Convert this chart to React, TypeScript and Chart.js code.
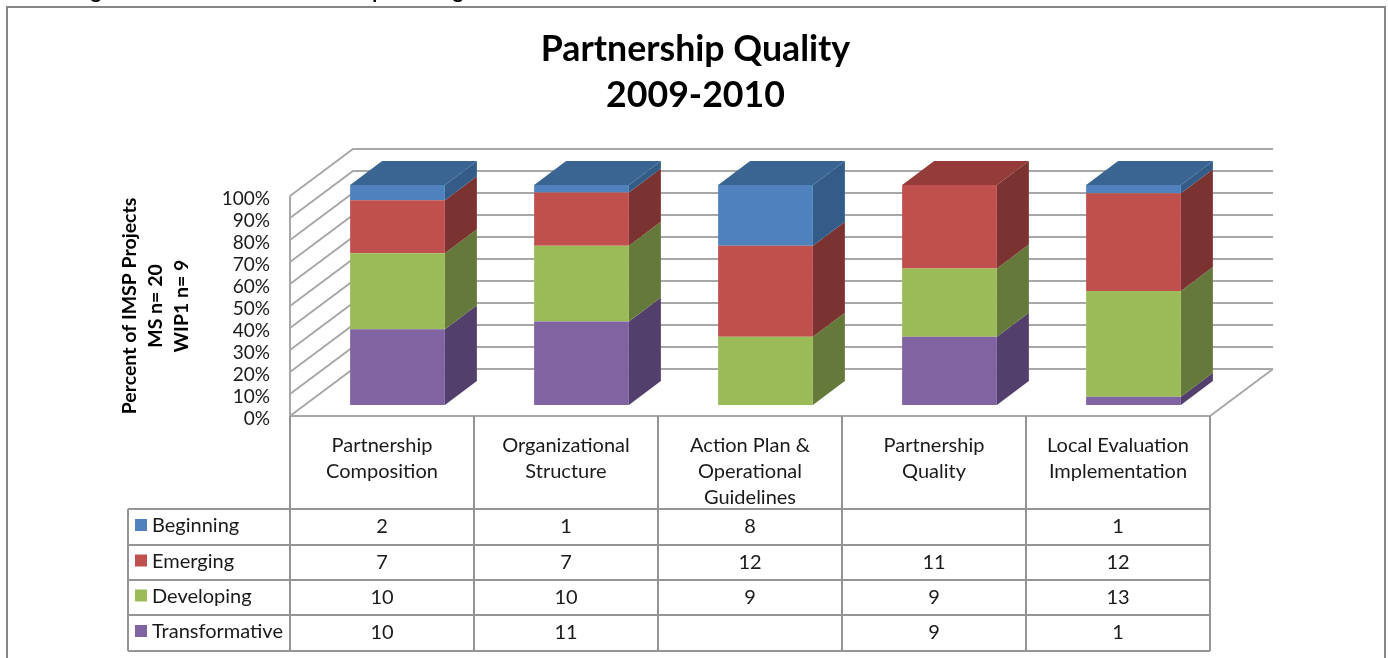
import React, { useEffect, useRef } from "react";
import { Chart, registerables } from "chart.js";

Chart.register(...registerables);

const categories = [
  ["Partnership", "Composition"],
  ["Organizational", "Structure"],
  ["Action Plan &", "Operational", "Guidelines"],
  ["Partnership", "Quality"],
  ["Local Evaluation", "Implementation"],
];
const beginning = [2, 1, 8, null, 1];
const emerging = [7, 7, 12, 11, 12];
const developing = [10, 10, 9, 9, 13];
const transformative = [10, 11, null, 9, 1];
const titleLines = ["Partnership Quality", "2009-2010"];
const yTitleLines = ["Percent of IMSP Projects", "MS n= 20", "WIP1 n= 9"];
// only the descenders of the caption above the frame survive in the crop
const captionGlyphs = [
  { text: "g", x: 96 },
  { text: "p", x: 378 },
  { text: "g", x: 458 },
];

const FONT = "Lato, 'Open Sans', sans-serif";
const TEXT = "#1a1a1a";
const LINE = "#a8a8a8";
const TABLE_LINE = "#949494";

// depth geometry of the 3-D look
const WALL_DX = 63;
const WALL_DY = -47;
const BAR_DX = 15.5;
const BAR_DY = -11;
const DEPTH_DX = 32;
const DEPTH_DY = -24;

const series = [
  { label: "Transformative", raw: transformative, front: "#8064A2", side: "#533F6B", top: "#644D80" },
  { label: "Developing", raw: developing, front: "#9BBB59", side: "#657A3A", top: "#7A9347" },
  { label: "Emerging", raw: emerging, front: "#C0504D", side: "#7B3331", top: "#953C3A" },
  { label: "Beginning", raw: beginning, front: "#4F81BD", side: "#335C88", top: "#3A6491" },
];

const totals = categories.map((_, i) =>
  series.reduce((sum, s) => sum + (s.raw[i] ?? 0), 0)
);

function poly(ctx: CanvasRenderingContext2D, pts: number[][], fill: string) {
  ctx.beginPath();
  pts.forEach((p, i) => (i ? ctx.lineTo(p[0], p[1]) : ctx.moveTo(p[0], p[1])));
  ctx.closePath();
  ctx.fillStyle = fill;
  ctx.fill();
}

function line(ctx: CanvasRenderingContext2D, pts: number[][]) {
  ctx.beginPath();
  pts.forEach((p, i) => (i ? ctx.lineTo(p[0], p[1]) : ctx.moveTo(p[0], p[1])));
  ctx.stroke();
}

const walls = {
  id: "walls",
  beforeDatasetsDraw(chart: any) {
    const { ctx, chartArea: a, scales } = chart;
    const y = scales.y;
    ctx.save();
    ctx.strokeStyle = LINE;
    ctx.lineWidth = 2;
    y.ticks.forEach((t: any) => {
      const py = y.getPixelForValue(t.value);
      line(ctx, [
        [a.left, py],
        [a.left + WALL_DX, py + WALL_DY],
        [a.right + WALL_DX, py + WALL_DY],
      ]);
    });
    line(ctx, [
      [a.left, a.top],
      [a.left, a.bottom],
      [a.right, a.bottom],
      [a.right + WALL_DX, a.bottom + WALL_DY],
    ]);

    // value-axis labels sit a little under the front grid ends
    ctx.fillStyle = TEXT;
    ctx.font = `19px ${FONT}`;
    ctx.textAlign = "right";
    ctx.textBaseline = "middle";
    y.ticks.forEach((t: any) => {
      ctx.fillText(t.label, 270, y.getPixelForValue(t.value) + 3);
    });
    ctx.restore();

    // side and top faces, then shift the library's bars on to the floor
    ctx.save();
    ctx.translate(BAR_DX, BAR_DY);
    series.forEach((s, di) => {
      chart.getDatasetMeta(di).data.forEach((bar: any, i: number) => {
        if (!s.raw[i]) return;
        const r = bar.x + bar.width / 2;
        const l = bar.x - bar.width / 2;
        poly(ctx, [[r, bar.base], [r + DEPTH_DX, bar.base + DEPTH_DY], [r + DEPTH_DX, bar.y + DEPTH_DY], [r, bar.y]], s.side);
        const hasAbove = series.slice(di + 1).some((o) => o.raw[i]);
        if (!hasAbove) {
          poly(ctx, [[l, bar.y], [l + DEPTH_DX, bar.y + DEPTH_DY], [r + DEPTH_DX, bar.y + DEPTH_DY], [r, bar.y]], s.top);
        }
      });
    });
    ctx.restore();
    ctx.save();
    ctx.translate(BAR_DX, BAR_DY);
  },
  afterDatasetsDraw(chart: any) {
    chart.ctx.restore();
  },
};

const dataTable = {
  id: "dataTable",
  afterDraw(chart: any) {
    const { ctx, chartArea: a, scales } = chart;
    const rowsY = [509, 545, 580, 615, 651];
    const legendLeft = 128;
    const catEdges = categories.map((_, i) => a.left + ((a.right - a.left) * i) / categories.length);
    ctx.save();
    ctx.strokeStyle = TABLE_LINE;
    ctx.lineWidth = 2;
    [...catEdges, a.right].forEach((x) => line(ctx, [[x, a.bottom], [x, rowsY[4]]]));
    line(ctx, [[legendLeft, rowsY[0]], [legendLeft, rowsY[4]]]);
    rowsY.forEach((y) => line(ctx, [[legendLeft, y], [a.right, y]]));

    ctx.font = `20px ${FONT}`;
    ctx.textBaseline = "middle";
    [...series].reverse().forEach((s, r) => {
      const cy = (rowsY[r] + rowsY[r + 1]) / 2;
      ctx.fillStyle = s.front;
      ctx.fillRect(135, cy - 8, 12, 12);
      ctx.fillStyle = TEXT;
      ctx.textAlign = "left";
      ctx.fillText(s.label, 152, cy - 1);
      ctx.textAlign = "center";
      s.raw.forEach((v, i) => {
        if (v == null) return;
        ctx.fillText(String(v), scales.x.getPixelForValue(i), cy);
      });
    });

    // frame of the slide
    ctx.strokeStyle = "#868686";
    ctx.lineWidth = 2;
    line(ctx, [[7, 660], [7, 7], [1385, 7], [1385, 660]]);

    // clipped caption above the frame
    ctx.fillStyle = "#000";
    ctx.font = `bold 20px ${FONT}`;
    ctx.textBaseline = "alphabetic";
    ctx.textAlign = "center";
    captionGlyphs.forEach((g) => ctx.fillText(g.text, g.x, -2));
    ctx.restore();
  },
};

export default function App() {
  const ref = useRef<HTMLCanvasElement>(null);
  useEffect(() => {
    const chart = new Chart(ref.current!, {
      type: "bar",
      data: {
        labels: categories,
        datasets: series.map((s) => ({
          label: s.label,
          data: s.raw.map((v, i) => ((v ?? 0) / totals[i]) * 100),
          backgroundColor: s.front,
          borderWidth: 0,
          clip: false,
          barPercentage: 0.515,
          categoryPercentage: 1,
        })),
      } as any,
      options: {
        responsive: false,
        animation: false,
        events: [],
        layout: { padding: { left: 3, right: 0, top: 0, bottom: 0 } },
        plugins: {
          legend: { display: false },
          tooltip: { enabled: false },
          title: {
            display: true,
            text: titleLines,
            color: "#000",
            font: { family: FONT, size: 35.7, weight: "bold", lineHeight: 46 / 35.7 },
            padding: { top: 26, bottom: 78 },
          },
        },
        scales: {
          x: {
            stacked: true,
            grid: { display: false, drawTicks: false },
            border: { display: false },
            ticks: {
              color: TEXT,
              padding: 17,
              autoSkip: false,
              maxRotation: 0,
              font: { family: FONT, size: 20, lineHeight: 26 / 20 },
            },
            afterFit: (s: any) => { s.height = 242; },
          },
          y: {
            stacked: true,
            min: 0,
            max: 100,
            grid: { display: false, drawTicks: false },
            border: { display: false },
            ticks: {
              display: false,
              stepSize: 10,
              autoSkip: false,
              callback: (v: any) => `${v}%`,
            },
            title: {
              display: true,
              text: yTitleLines,
              color: "#000",
              font: { family: FONT, size: 19.5, weight: "bold", lineHeight: 26 / 19.5 },
              padding: { top: 114, bottom: 0 },
            },
            afterFit: (s: any) => { s.width = 287; },
          },
          spacer: {
            position: "right",
            grid: { display: false, drawTicks: false },
            border: { display: false },
            ticks: { display: false },
            afterFit: (s: any) => { s.width = 178; },
          },
        },
      },
      plugins: [walls, dataTable],
    } as any);
    return () => chart.destroy();
  }, []);
  return (
    <div style={{ position: "fixed", left: 0, top: 0, width: 1388, height: 658, background: "#fff", overflow: "hidden" }}>
      <canvas ref={ref} width={1388} height={658} style={{ display: "block" }} />
    </div>
  );
}
